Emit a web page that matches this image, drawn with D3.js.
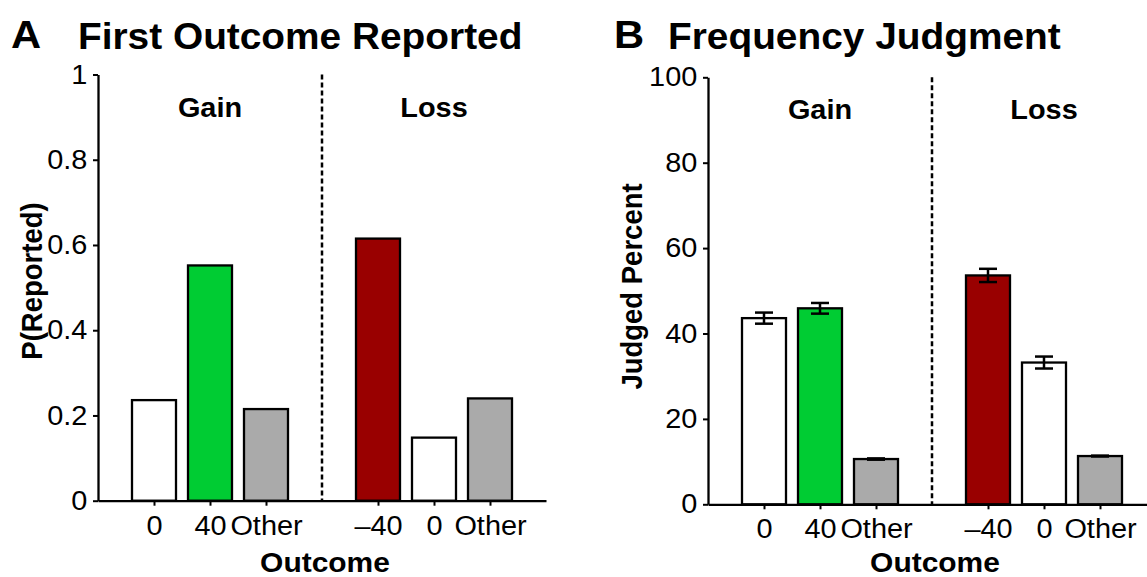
<!DOCTYPE html>
<html>
<head>
<meta charset="utf-8">
<script src="https://cdn.jsdelivr.net/npm/d3@7"></script>
<style>
  body { margin: 0; background: #fff; }
  svg { display: block; }
  text { font-family: "Liberation Sans", Arial, Helvetica, sans-serif; fill: #000; }
</style>
</head>
<body>
<script>
// slots on the x axis (slot 4 is the dotted gain / loss divider)
var slotIndex = [1, 2, 3, 5, 6, 7];
var slotLabels = ["0", "40", "Other", "\u201340", "0", "Other"];
var groupLabels = ["Gain", "Loss"];
var groupSlots = [2, 6];

// panel A : probability the outcome was reported first
var firstReported = [0.236, 0.552, 0.215, 0.615, 0.148, 0.240];
var ticksA = [0, 0.2, 0.4, 0.6, 0.8, 1];

// panel B : judged frequency (percent) with error bars
var judgedPercent = [43.6, 45.9, 10.6, 53.6, 33.2, 11.3];
var judgedErr = [1.3, 1.25, 0.15, 1.55, 1.4, 0.1];
var ticksB = [0, 20, 40, 60, 80, 100];

var barFill = ["#ffffff", "#00cc33", "#aaaaaa", "#990000", "#ffffff", "#aaaaaa"];

var K = 1.07; // the figure is a bit wider than tall, text too
var slotW = 56;

var svg = d3.select("body").append("svg")
	.attr("width", 1147)
	.attr("height", 577);

function label(g, x, y, txt, size, weight, anchor) {
	return g.append("text")
		.attr("transform", "translate(" + x + "," + y + ") scale(" + K + ",1)")
		.attr("text-anchor", anchor || "start")
		.style("font-size", size + "px")
		.style("font-weight", weight || "normal")
		.text(txt);
}

function drawPanel(p) {
	var g = svg.append("g");

	var x = d3.scalePoint()
		.domain(d3.range(9))
		.range([p.left, p.left + 8 * slotW]);

	var y = d3.scaleLinear()
		.domain([0, p.max])
		.range([p.bottom, p.top]);

	// dotted divider between gain and loss
	g.append("line")
		.attr("x1", x(4)).attr("x2", x(4))
		.attr("y1", y(p.max)).attr("y2", y(0))
		.attr("stroke", "#000")
		.attr("stroke-width", 2.5)
		.attr("stroke-dasharray", "5,3");

	// bars
	g.selectAll(".bar")
		.data(p.values)
		.enter().append("rect")
		.attr("class", "bar")
		.attr("x", function(d, i) { return x(slotIndex[i]) - 22; })
		.attr("width", 44)
		.attr("y", function(d) { return y(d); })
		.attr("height", function(d) { return y(0) - y(d); })
		.attr("fill", function(d, i) { return barFill[i]; })
		.attr("stroke", "#000")
		.attr("stroke-width", 2.3);

	// error bars
	if (p.err) {
		var eb = g.selectAll(".err")
			.data(p.values)
			.enter().append("g")
			.attr("class", "err")
			.attr("stroke", "#000")
			.attr("stroke-width", 2.5);
		eb.append("line")
			.attr("x1", function(d, i) { return x(slotIndex[i]); })
			.attr("x2", function(d, i) { return x(slotIndex[i]); })
			.attr("y1", function(d, i) { return y(d - p.err[i]); })
			.attr("y2", function(d, i) { return y(d + p.err[i]); });
		[-1, 1].forEach(function(s) {
			eb.append("line")
				.attr("x1", function(d, i) { return x(slotIndex[i]) - 9; })
				.attr("x2", function(d, i) { return x(slotIndex[i]) + 9; })
				.attr("y1", function(d, i) { return y(d + s * p.err[i]); })
				.attr("y2", function(d, i) { return y(d + s * p.err[i]); });
		});
	}

	// y axis
	var yAxis = g.append("g")
		.attr("transform", "translate(" + p.left + ",0)")
		.call(d3.axisLeft(y)
			.tickValues(p.ticks)
			.tickFormat(d3.format("~g"))
			.tickSize(5)
			.tickSizeOuter(0)
			.tickPadding(5));

	// x axis
	var xAxis = g.append("g")
		.attr("transform", "translate(0," + y(0) + ")")
		.call(d3.axisBottom(x)
			.tickValues(slotIndex)
			.tickFormat(function(d) { return slotLabels[slotIndex.indexOf(d)]; })
			.tickSize(5)
			.tickSizeOuter(0)
			.tickPadding(10));

	[yAxis, xAxis].forEach(function(ax) {
		ax.select(".domain").attr("stroke-width", 2.3);
		ax.selectAll(".tick line").attr("stroke-width", 2);
		ax.selectAll(".tick text")
			.attr("transform", "scale(" + K + ",1)")
			.style("font-size", "27px")
			.attr("font-family", null);
	});

	// gain / loss headers
	groupLabels.forEach(function(t, i) {
		label(g, x(groupSlots[i]), p.top + 42, t, 27, "bold", "middle");
	});

	// titles
	label(g, p.letterX, 48, p.letter, 39, "bold");
	label(g, p.titleX, 49, p.title, 36.3, "bold");

	// axis titles
	label(g, x(4) + 3, 572, "Outcome", 28, "bold", "middle");
	g.append("text")
		.attr("transform", "translate(" + p.ylabX + "," + p.ylabY + ") rotate(-90) scale(1," + K + ")")
		.attr("text-anchor", "middle")
		.style("font-size", "27.5px")
		.style("font-weight", "bold")
		.text(p.ylab);
}

drawPanel({
	values: firstReported, err: null, ticks: ticksA, max: 1,
	left: 98, top: 74.5, bottom: 500.7,
	letter: "A", letterX: 11, title: "First Outcome Reported", titleX: 78,
	ylab: "P(Reported)", ylabX: 42, ylabY: 281
});

drawPanel({
	values: judgedPercent, err: judgedErr, ticks: ticksB, max: 100,
	left: 708, top: 77.3, bottom: 504.3,
	letter: "B", letterX: 614, title: "Frequency Judgment", titleX: 668,
	ylab: "Judged Percent", ylabX: 642, ylabY: 286.5
});
</script>
</body>
</html>
